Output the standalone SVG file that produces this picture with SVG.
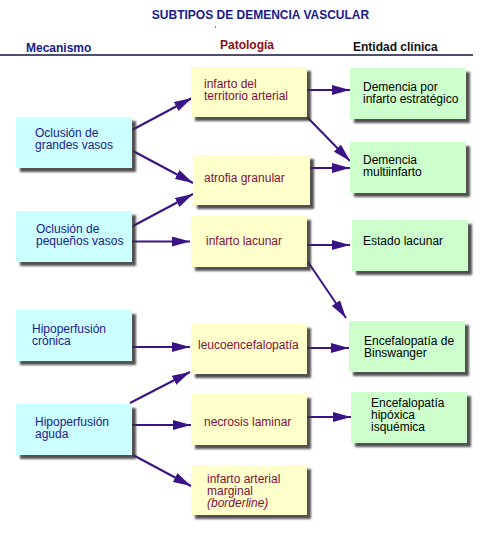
<svg xmlns="http://www.w3.org/2000/svg" width="500" height="540" viewBox="0 0 500 540">
<defs>
<filter id="sh" x="-10%" y="-10%" width="130%" height="140%">
<feDropShadow dx="4" dy="4" stdDeviation="1" flood-color="#333" flood-opacity="0.85"/>
</filter>
<marker id="ah" markerUnits="userSpaceOnUse" markerWidth="18" markerHeight="10" refX="18" refY="5" orient="auto">
<path d="M0,0 L18,5 L0,10 z" fill="#3a1486"/>
</marker>
<style>
text{font-family:"Liberation Sans",Arial,sans-serif;font-size:12px}
.h{font-weight:bold}
.mec rect{fill:#ccffff;filter:url(#sh)}
.pat rect{fill:#ffffcc;filter:url(#sh)}
.ent rect{fill:#ccffcc;filter:url(#sh)}
.mec text{fill:#1a1a8c}
.pat text{fill:#80103a}
.ent text{fill:#000}
#conn line{stroke:#3a1486;stroke-width:2;marker-end:url(#ah)}
</style>
</defs>
<rect width="500" height="540" fill="#fff"/>
<g id="title">
<text class="h" x="260.5" y="19" text-anchor="middle" fill="#1a1a8c">SUBTIPOS DE DEMENCIA VASCULAR</text>
<rect x="215" y="26.5" width="1" height="1" fill="#000"/>
</g>
<g id="headers">
<text class="h" x="26" y="52" fill="#1a1a8c">Mecanismo</text>
<text class="h" x="220" y="49" fill="#8b1010">Patología</text>
<text class="h" x="353" y="51" fill="#111">Entidad clínica</text>
<line x1="0" y1="55" x2="473" y2="55" stroke="#14143c" stroke-width="1.5"/>
</g>
<g id="conn">
<line x1="132" y1="130" x2="192" y2="98"/>
<line x1="133" y1="151" x2="193" y2="183"/>
<line x1="133" y1="226" x2="193" y2="194"/>
<line x1="132" y1="241.5" x2="190" y2="241.5"/>
<line x1="132" y1="347" x2="190" y2="347"/>
<line x1="130" y1="403" x2="190" y2="372"/>
<line x1="132" y1="425" x2="191" y2="425"/>
<line x1="133" y1="455" x2="191" y2="486"/>
<line x1="307" y1="90" x2="350" y2="90"/>
<line x1="307" y1="117" x2="350" y2="161"/>
<line x1="310" y1="168" x2="350" y2="168"/>
<line x1="307" y1="245" x2="350" y2="245"/>
<line x1="308" y1="262" x2="346" y2="318"/>
<line x1="307" y1="348" x2="349" y2="348"/>
<line x1="307" y1="417" x2="351" y2="417"/>
</g>
<g id="m1" class="mec"><rect x="16" y="117" width="116" height="51"/><text x="35" y="137">Oclusión de</text><text x="35" y="149">grandes vasos</text></g>
<g id="m2" class="mec"><rect x="16" y="211" width="116" height="51"/><text x="36" y="233">Oclusión de</text><text x="36" y="245">pequeños vasos</text></g>
<g id="m3" class="mec"><rect x="16" y="310" width="116" height="51"/><text x="32" y="333">Hipoperfusión</text><text x="32" y="345">crónica</text></g>
<g id="m4" class="mec"><rect x="16" y="404" width="116" height="51"/><text x="35" y="425.5">Hipoperfusión</text><text x="35" y="437.5">aguda</text></g>
<g id="p1" class="pat"><rect x="191" y="67" width="116" height="50"/><text x="204" y="87.5">infarto del</text><text x="204" y="99.5">territorio arterial</text></g>
<g id="p2" class="pat"><rect x="193" y="155" width="117" height="50"/><text x="204" y="182">atrofia granular</text></g>
<g id="p3" class="pat"><rect x="191" y="216" width="116" height="51"/><text x="206" y="245">infarto lacunar</text></g>
<g id="p4" class="pat"><rect x="191" y="324" width="116" height="50"/><text x="198" y="349">leucoencefalopatía</text></g>
<g id="p5" class="pat"><rect x="191" y="394" width="116" height="51"/><text x="204" y="426">necrosis laminar</text></g>
<g id="p6" class="pat"><rect x="191" y="465" width="116" height="50"/><text x="207" y="482.5">infarto arterial</text><text x="207" y="494.5">marginal</text><text x="207" y="506.5" font-style="italic">(borderline)</text></g>
<g id="e1" class="ent"><rect x="350" y="68" width="116" height="51"/><text x="363" y="90.5">Demencia por</text><text x="363" y="102.5">infarto estratégico</text></g>
<g id="e2" class="ent"><rect x="350" y="142" width="116" height="51"/><text x="363" y="163.5">Demencia</text><text x="363" y="175.5">multiinfarto</text></g>
<g id="e3" class="ent"><rect x="352" y="220" width="116" height="51"/><text x="363" y="245">Estado lacunar</text></g>
<g id="e4" class="ent"><rect x="349" y="321" width="116" height="51"/><text x="364" y="345">Encefalopatía de</text><text x="364" y="357">Binswanger</text></g>
<g id="e5" class="ent"><rect x="351" y="392" width="116" height="51"/><text x="371" y="406.5">Encefalopatía</text><text x="371" y="418.5">hipóxica</text><text x="371" y="430.5">isquémica</text></g>
</svg>
